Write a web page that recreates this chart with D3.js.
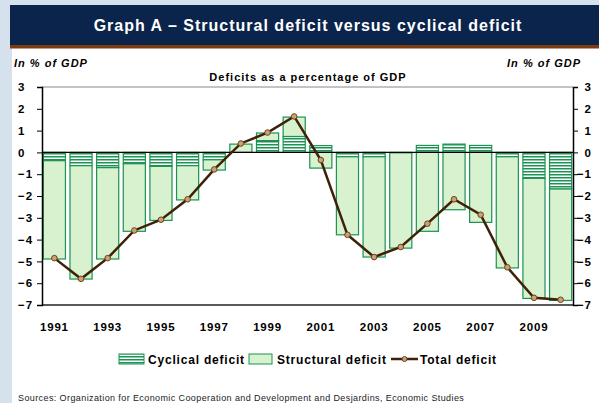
<!DOCTYPE html>
<html lang="en">
<head>
<meta charset="UTF-8">
<title>Structural deficit versus cyclical deficit</title>
<script src="https://d3js.org/d3.v7.min.js"></script>
<style>
  body { margin: 0; background: #d5e1ec; }
  svg { display: block; font-family: "Liberation Sans", Arial, sans-serif; }
</style>
</head>
<body>
<svg id="chart" width="599" height="403"></svg>
<script>
  const years = d3.range(1991, 2011);
  const tickYears = [1991, 1993, 1995, 1997, 1999, 2001, 2003, 2005, 2007, 2009];
  const cyclical = [-0.38, -0.61, -0.70, -0.52, -0.64, -0.61, -0.34, 0.0, 0.54, 0.73,
                    0.31, -0.2, -0.2, -0.02, 0.32, 0.38, 0.32, -0.2, -1.19, -1.68];
  const structural = [-4.51, -5.20, -4.19, -3.10, -2.48, -1.57, -0.47, 0.38, 0.35, 0.89,
                      -0.72, -3.58, -4.6, -4.37, -3.62, -2.63, -3.21, -5.1, -5.51, -5.11];
  const total = [-4.85, -5.8, -4.85, -3.58, -3.09, -2.15, -0.78, 0.41, 0.91, 1.65,
                 -0.35, -3.78, -4.8, -4.34, -3.27, -2.15, -2.86, -5.27, -6.67, -6.76];
  const yTicks = d3.range(-7, 4);

  const svg = d3.select("#chart");
  const green = "#1b9352";
  const lightGreen = "#d8f1cf";
  const brown = "#3f2008";

  // panel background + title bar
  svg.append("rect").attr("x", 12).attr("y", 48).attr("width", 587).attr("height", 355).attr("fill", "#fff");
  svg.append("rect").attr("x", 10).attr("y", 5).attr("width", 589).attr("height", 40).attr("fill", "#0b244c");
  svg.append("rect").attr("x", 10).attr("y", 45).attr("width", 589).attr("height", 3.5).attr("fill", "#7d3c10");
  svg.append("text").attr("x", 308).attr("y", 31).attr("text-anchor", "middle")
    .attr("fill", "#fff").attr("font-size", 16).attr("font-weight", "bold").attr("letter-spacing", 1)
    .text("Graph A \u2013 Structural deficit versus cyclical deficit");

  // hatch pattern for the cyclical part
  const defs = svg.append("defs");
  const pat = defs.append("pattern").attr("id", "hatch")
    .attr("patternUnits", "userSpaceOnUse").attr("width", 6).attr("height", 3);
  pat.append("rect").attr("width", 6).attr("height", 3).attr("fill", "#fff");
  pat.append("rect").attr("width", 6).attr("height", 1.5).attr("fill", green);

  const x = d3.scaleBand().domain(years).range([42, 573]).paddingInner(0.17).paddingOuter(0.05);
  const y = d3.scaleLinear().domain([-7, 3]).range([305, 87]);

  // labels
  svg.append("text").attr("x", 14).attr("y", 67).attr("font-size", 11).attr("font-weight", "bold")
    .attr("font-style", "italic").attr("letter-spacing", 1).text("In % of GDP");
  svg.append("text").attr("x", 581).attr("y", 67).attr("text-anchor", "end").attr("font-size", 11)
    .attr("font-weight", "bold").attr("font-style", "italic").attr("letter-spacing", 1).text("In % of GDP");
  svg.append("text").attr("x", 308).attr("y", 81).attr("text-anchor", "middle").attr("font-size", 11)
    .attr("font-weight", "bold").attr("letter-spacing", 1).text("Deficits as a percentage of GDP");

  // stacked bars (diverging)
  const rows = years.map((yr, i) => ({ year: yr, cyclical: cyclical[i], structural: structural[i] }));
  const series = d3.stack().keys(["cyclical", "structural"]).offset(d3.stackOffsetDiverging)(rows);

  const barG = svg.append("g");
  series.forEach(s => {
    barG.selectAll(null).data(s).join("rect")
      .attr("x", d => x(d.data.year))
      .attr("width", x.bandwidth())
      .attr("y", d => y(Math.max(d[0], d[1])))
      .attr("height", d => Math.abs(y(d[0]) - y(d[1])))
      .attr("fill", s.key === "cyclical" ? "url(#hatch)" : lightGreen)
      .attr("stroke", green)
      .attr("stroke-width", 1.2);
  });

  // frame / axes
  svg.append("line").attr("x1", 42).attr("x2", 573).attr("y1", y(3)).attr("y2", y(3))
    .attr("stroke", "#888").attr("stroke-width", 1);
  svg.append("line").attr("x1", 42).attr("x2", 573).attr("y1", y(-7)).attr("y2", y(-7))
    .attr("stroke", "#222").attr("stroke-width", 1.5);
  svg.append("line").attr("x1", 42).attr("x2", 573).attr("y1", y(0)).attr("y2", y(0))
    .attr("stroke", "#000").attr("stroke-width", 1.2);

  const leftAxis = svg.append("g").attr("transform", "translate(42,0)")
    .call(d3.axisLeft(y).tickValues(yTicks).tickSize(5).tickFormat(d3.format("d")));
  const rightAxis = svg.append("g").attr("transform", "translate(573,0)")
    .call(d3.axisRight(y).tickValues(yTicks).tickSize(5).tickFormat(d3.format("d")));
  [leftAxis, rightAxis].forEach(a => {
    a.select(".domain").attr("stroke", "#000").attr("stroke-width", 1.5);
    a.selectAll(".tick line").attr("stroke", "#000");
    a.selectAll(".tick text").attr("font-size", 11.5).attr("font-weight", "bold").attr("letter-spacing", 1)
      .attr("font-family", "'Liberation Sans', Arial, sans-serif").attr("fill", "#000");
  });
  // left labels sit flush left at x=18, right labels flush right at x=592
  leftAxis.selectAll(".tick text").attr("x", 18 - 42).attr("text-anchor", "start");
  rightAxis.selectAll(".tick text").attr("x", 592 - 573).attr("text-anchor", "end");

  svg.append("g").selectAll("text").data(tickYears).join("text")
    .attr("x", d => x(d) + x.bandwidth() / 2)
    .attr("y", 331)
    .attr("text-anchor", "middle").attr("font-size", 11.5).attr("font-weight", "bold")
    .attr("letter-spacing", 0.8)
    .text(d => d);

  // total deficit line
  const line = d3.line().x((d, i) => x(years[i]) + x.bandwidth() / 2).y(d => y(d));
  svg.append("path").datum(total).attr("d", line).attr("fill", "none")
    .attr("stroke", brown).attr("stroke-width", 2.5);
  svg.append("g").selectAll("circle").data(total).join("circle")
    .attr("cx", (d, i) => x(years[i]) + x.bandwidth() / 2)
    .attr("cy", d => y(d)).attr("r", 2.8)
    .attr("fill", "#c9a172").attr("stroke", "#6b4420").attr("stroke-width", 1);

  // legend
  const lg = svg.append("g").attr("transform", "translate(0,359)");
  lg.append("rect").attr("x", 119).attr("y", -5).attr("width", 25).attr("height", 10)
    .attr("fill", "url(#hatch)").attr("stroke", green);
  lg.append("text").attr("x", 148).attr("y", 4.5).attr("font-size", 12).attr("font-weight", "bold")
    .attr("letter-spacing", 0.8).text("Cyclical deficit");
  lg.append("rect").attr("x", 249).attr("y", -5).attr("width", 23).attr("height", 10)
    .attr("fill", lightGreen).attr("stroke", green);
  lg.append("text").attr("x", 277).attr("y", 4.5).attr("font-size", 12).attr("font-weight", "bold")
    .attr("letter-spacing", 0.8).text("Structural deficit");
  lg.append("line").attr("x1", 391).attr("x2", 418).attr("y1", 0).attr("y2", 0)
    .attr("stroke", brown).attr("stroke-width", 2.5);
  lg.append("circle").attr("cx", 404.5).attr("cy", 0).attr("r", 2.5)
    .attr("fill", "#c9a172").attr("stroke", "#6b4420");
  lg.append("text").attr("x", 420).attr("y", 4.5).attr("font-size", 12).attr("font-weight", "bold")
    .attr("letter-spacing", 0.8).text("Total deficit");

  svg.append("text").attr("x", 18).attr("y", 401).attr("font-size", 9).attr("fill", "#222")
    .attr("letter-spacing", 0.4)
    .text("Sources: Organization for Economic Cooperation and Development and Desjardins, Economic Studies");
</script>
</body>
</html>
